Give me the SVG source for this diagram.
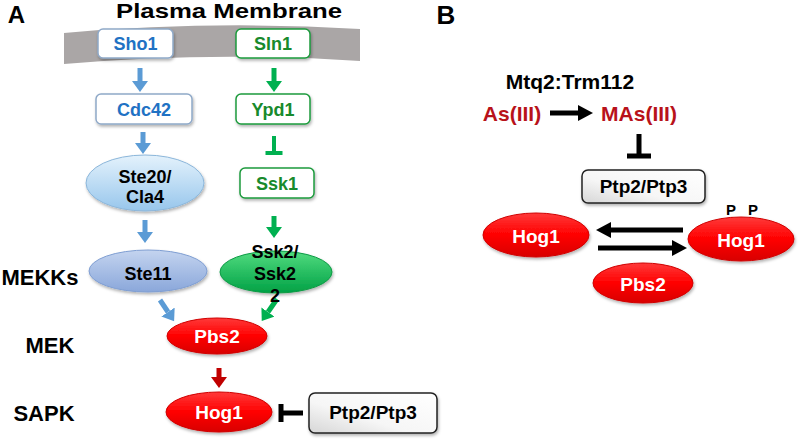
<svg xmlns="http://www.w3.org/2000/svg" width="800" height="443" viewBox="0 0 800 443">
<style>
text{font-family:"Liberation Sans",Arial,sans-serif;font-weight:bold;text-anchor:middle}
.lbl{fill:#000;font-size:22px}
.blueBox{fill:#fff;stroke:#8fa9c8;stroke-width:1.5}
.greenBox{fill:#fff;stroke:#1d9a3c;stroke-width:1.5}
.blueTxt{fill:#1f72c4;font-size:18px}
.greenTxt{fill:#188a2c;font-size:18px}
.blk{fill:#000;font-size:18px}
.wht{fill:#fff;font-size:19px}
.red{fill:url(#gRed);stroke:#d00000;stroke-width:1}
.ptp{fill:url(#gPtp);stroke:#222;stroke-width:1.5}
.redTxt{fill:#b8121a;font-size:21px}
.blueArr{stroke:#5b9bd5;stroke-width:5;fill:none}
.greenArr{stroke:#00b050;stroke-width:5;fill:none}
.redArr{stroke:#c00000;stroke-width:5;fill:none}
.blackArr{stroke:#000;stroke-width:5;fill:none}
.greenT{stroke:#00b050;stroke-width:4;fill:none}
.blackT{stroke:#000;stroke-width:5;fill:none}
</style>
<defs>
<linearGradient id="gRed" x1="0" y1="0" x2="0" y2="1">
<stop offset="0" stop-color="#ff3a3a"/><stop offset="0.5" stop-color="#ff0000"/><stop offset="1" stop-color="#d80000"/>
</linearGradient>
<linearGradient id="gSte20" x1="0" y1="0" x2="0" y2="1">
<stop offset="0" stop-color="#e4f2fc"/><stop offset="1" stop-color="#97c6ec"/>
</linearGradient>
<linearGradient id="gSte11" x1="0" y1="0" x2="0" y2="1">
<stop offset="0" stop-color="#c4d4ef"/><stop offset="1" stop-color="#8aa7da"/>
</linearGradient>
<linearGradient id="gSsk2" x1="0" y1="0" x2="0" y2="1">
<stop offset="0" stop-color="#52dc80"/><stop offset="1" stop-color="#00a145"/>
</linearGradient>
<linearGradient id="gPtp" x1="1" y1="0" x2="0" y2="1">
<stop offset="0" stop-color="#ffffff"/><stop offset="0.6" stop-color="#f6f6f6"/><stop offset="1" stop-color="#d6d6d6"/>
</linearGradient>
<filter id="sh" x="-20%" y="-20%" width="140%" height="150%">
<feDropShadow dx="1" dy="2" stdDeviation="1.5" flood-color="#000" flood-opacity="0.3"/>
</filter>
<marker id="hBlue" markerUnits="userSpaceOnUse" markerWidth="12" markerHeight="16" refX="0" refY="8" orient="auto"><path d="M0,0 L11,8 L0,16 z" fill="#5b9bd5"/></marker>
<marker id="hGreen" markerUnits="userSpaceOnUse" markerWidth="12" markerHeight="16" refX="0" refY="8" orient="auto"><path d="M0,0 L11,8 L0,16 z" fill="#00b050"/></marker>
<marker id="hRed" markerUnits="userSpaceOnUse" markerWidth="12" markerHeight="16" refX="0" refY="8" orient="auto"><path d="M0,0 L11,8 L0,16 z" fill="#c00000"/></marker>
<marker id="hBlack" markerUnits="userSpaceOnUse" markerWidth="16" markerHeight="18" refX="0" refY="8" orient="auto"><path d="M0,0 L15,8 L0,16 z" fill="#000"/></marker>
</defs>
<rect width="800" height="443" fill="#fff"/>

<!-- Panel labels -->
<text x="16.5" y="23" style="font-size:24px">A</text>
<text x="446" y="24" style="font-size:26px">B</text>
<text x="229" y="18" style="font-size:21px" textLength="226" lengthAdjust="spacingAndGlyphs">Plasma Membrane</text>

<!-- membrane -->
<path id="membrane" d="M64,33 Q212,20 360,29 L360,61 Q212,51 64,64 Z" fill="#aaa6a6"/>

<text class="lbl" x="40" y="285">MEKKs</text>
<text class="lbl" x="50" y="353">MEK</text>
<text class="lbl" x="44" y="421">SAPK</text>

<g id="connectors">
<line class="blueArr" x1="140" y1="68" x2="140" y2="81" marker-end="url(#hBlue)"/>
<line class="greenArr" x1="274" y1="68" x2="274" y2="81" marker-end="url(#hGreen)"/>
<line class="blueArr" x1="143" y1="132" x2="143" y2="143" marker-end="url(#hBlue)"/>
<path class="greenT" d="M274,136 V153 M265.5,153 H282.5"/>
<line class="blueArr" x1="145" y1="220" x2="145" y2="232" marker-end="url(#hBlue)"/>
<line class="greenArr" x1="274" y1="216" x2="274" y2="227" marker-end="url(#hGreen)"/>
<line class="blueArr" x1="160" y1="300" x2="168" y2="312" marker-end="url(#hBlue)"/>
<line class="greenArr" x1="277" y1="299" x2="268" y2="312" marker-end="url(#hGreen)"/>
<line class="redArr" x1="219" y1="368" x2="219" y2="377" marker-end="url(#hRed)"/>
<path class="blackT" d="M303,413 H281 M281,404 V422"/>
<line class="blackArr" x1="550" y1="113" x2="578" y2="113" marker-end="url(#hBlack)"/>
<path class="blackT" d="M639,134 V156 M627,156 H651"/>
<line class="blackArr" x1="683" y1="230" x2="611" y2="230" marker-end="url(#hBlack)"/>
<line class="blackArr" x1="598" y1="248" x2="672" y2="248" marker-end="url(#hBlack)"/>
</g>

<g id="Sho1"><rect class="blueBox" x="98" y="29" width="75" height="29" rx="5" filter="url(#sh)"/><text class="blueTxt" x="135.5" y="50">Sho1</text></g>
<g id="Sln1"><rect class="greenBox" x="236" y="29" width="74" height="29" rx="5" filter="url(#sh)"/><text class="greenTxt" x="273" y="50">Sln1</text></g>
<g id="Cdc42"><rect class="blueBox" x="96" y="94" width="96" height="30" rx="5" filter="url(#sh)"/><text class="blueTxt" x="144" y="116">Cdc42</text></g>
<g id="Ypd1"><rect class="greenBox" x="236" y="94" width="74" height="30" rx="5" filter="url(#sh)"/><text class="greenTxt" x="273" y="116">Ypd1</text></g>
<g id="Ssk1"><rect class="greenBox" x="240" y="168" width="74" height="30" rx="5" filter="url(#sh)"/><text class="greenTxt" x="277" y="190">Ssk1</text></g>
<g id="Ste20"><ellipse cx="145" cy="183" rx="59" ry="28" fill="url(#gSte20)" stroke="#8bb6da" filter="url(#sh)"/><text class="blk" x="145" y="183">Ste20/</text><text class="blk" x="145" y="203">Cla4</text></g>
<g id="Ste11"><ellipse cx="148" cy="271" rx="59" ry="21" fill="url(#gSte11)" stroke="#7f9ed2" filter="url(#sh)"/><text class="blk" x="148" y="280">Ste11</text></g>
<g id="Ssk2"><ellipse cx="276" cy="272" rx="56" ry="21" fill="url(#gSsk2)" stroke="#0a9a44" filter="url(#sh)"/><text class="blk" x="275" y="258">Ssk2/</text><text class="blk" x="275" y="280">Ssk2</text><text class="blk" x="275" y="302">2</text></g>
<g id="Pbs2A"><ellipse class="red" cx="217" cy="336" rx="50" ry="18" filter="url(#sh)"/><text class="wht" x="217" y="343">Pbs2</text></g>
<g id="Hog1A"><ellipse class="red" cx="219" cy="412" rx="53" ry="20" filter="url(#sh)"/><text class="wht" x="219" y="419">Hog1</text></g>
<g id="PtpA"><rect class="ptp" x="309" y="393" width="128" height="40" rx="6" filter="url(#sh)"/><text class="blk" x="373" y="419" style="font-size:19px">Ptp2/Ptp3</text></g>

<!-- Panel B -->
<g id="Mtq2"><text x="570" y="89" style="font-size:21px;fill:#000">Mtq2:Trm112</text></g>
<g id="AsIII"><text class="redTxt" x="512" y="121">As(III)</text></g>
<g id="MAsIII"><text class="redTxt" x="639" y="121">MAs(III)</text></g>
<g id="PtpB"><rect class="ptp" x="582" y="170" width="123" height="33" rx="6" filter="url(#sh)"/><text class="blk" x="643.5" y="193" style="font-size:19px">Ptp2/Ptp3</text></g>
<g id="Hog1B1"><ellipse class="red" cx="536" cy="235" rx="53" ry="22" filter="url(#sh)"/><text class="wht" x="536" y="243">Hog1</text></g>
<g id="Hog1B2"><ellipse class="red" cx="741" cy="239" rx="53" ry="22" filter="url(#sh)"/><text class="wht" x="741" y="247">Hog1</text><text x="731" y="215" style="font-size:15px;fill:#000">P</text><text x="753" y="215" style="font-size:15px;fill:#000">P</text></g>
<g id="Pbs2B"><ellipse class="red" cx="643" cy="283" rx="50" ry="20" filter="url(#sh)"/><text class="wht" x="643" y="291">Pbs2</text></g>
</svg>
